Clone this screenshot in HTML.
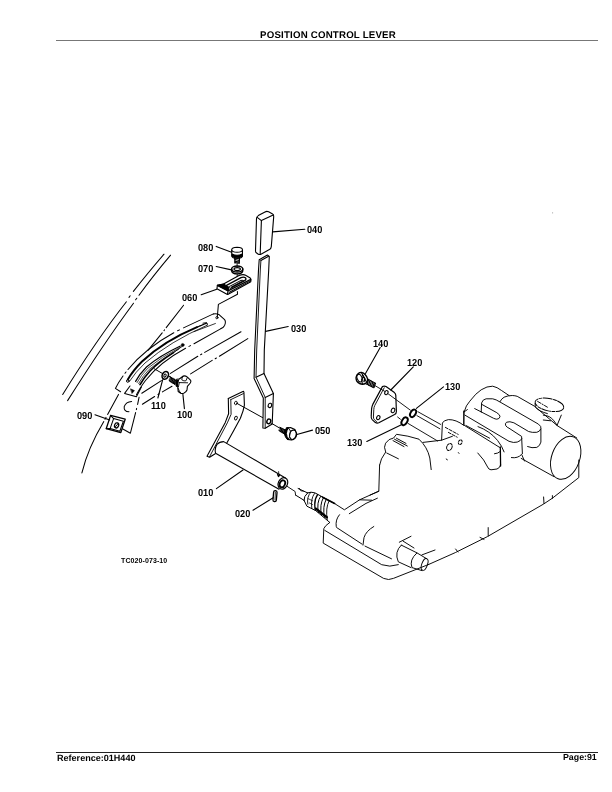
<!DOCTYPE html>
<html><head><meta charset="utf-8">
<style>
html,body{margin:0;padding:0;background:#fff;overflow:hidden;}
body{width:612px;height:792px;position:relative;overflow:hidden;font-family:"Liberation Sans",sans-serif;color:#000;}
.t{position:absolute;white-space:nowrap;font-weight:bold;line-height:1;will-change:transform;}
#title{left:43px;width:570px;text-align:center;top:30.7px;font-size:9.7px;letter-spacing:0.19px;text-rendering:geometricPrecision;}
#hl{position:absolute;left:56px;top:40px;width:542px;height:1px;background:#777;}
#fl{position:absolute;left:56px;top:752px;width:542px;height:1px;background:#222;}
#ref{left:57.2px;top:754.1px;font-size:9.05px;text-rendering:geometricPrecision;}
#pg{right:15px;top:753.4px;font-size:8.8px;text-rendering:geometricPrecision;}
.l{font-size:9.2px;text-rendering:geometricPrecision;transform:scaleY(1.1);transform-origin:0 0;}
svg{position:absolute;left:0;top:0;}
</style></head><body>
<div class="t" id="title">POSITION CONTROL LEVER</div>
<div id="hl"></div>
<div id="fl"></div>
<div class="t" id="ref">Reference:01H440</div>
<div class="t" id="pg">Page:91</div>
<div class="t l" style="left:307.4px;top:224.5px">040</div>
<div class="t l" style="left:197.6px;top:243.0px">080</div>
<div class="t l" style="left:197.6px;top:264.0px">070</div>
<div class="t l" style="left:182.4px;top:292.7px">060</div>
<div class="t l" style="left:291.2px;top:323.8px">030</div>
<div class="t l" style="left:76.7px;top:410.9px">090</div>
<div class="t l" style="left:150.9px;top:400.8px">110</div>
<div class="t l" style="left:177.4px;top:410.0px">100</div>
<div class="t l" style="left:315.1px;top:426.0px">050</div>
<div class="t l" style="left:197.5px;top:487.7px">010</div>
<div class="t l" style="left:235.0px;top:508.8px">020</div>
<div class="t l" style="left:373.0px;top:338.8px">140</div>
<div class="t l" style="left:406.9px;top:357.9px">120</div>
<div class="t l" style="left:444.6px;top:381.9px">130</div>
<div class="t l" style="left:347.0px;top:437.6px">130</div>
<div class="t" id="tc" style="left:120.9px;top:557.2px;font-size:7px;letter-spacing:0.1px;">TC020-073-10</div>
<svg width="612" height="792" viewBox="0 0 612 792" fill="none" stroke="#000" stroke-width="1.1" stroke-linecap="round" stroke-linejoin="round">
<!--DRAWING-->
<!-- GRIP 040 -->
<g id="grip">
<path d="M256.5,218.5 Q256.6,216.6 258.3,215.6 L265,211.9 Q266.8,210.9 268.6,211.8 L272.6,213.9 Q273.9,214.7 273.7,216.6 L271.3,246.6 Q271.1,248.6 269.4,249.6 L261.4,254 Q259.6,255 258,254 L256.3,252.8 Q255.4,252.2 255.5,250.5 Z"/>
<path d="M257.2,217.4 L261.4,220.6 L273.2,215"/>
<path d="M261.4,220.6 L260.2,253.6"/>
<path d="M272.6,231.9 L304.8,229.3"/>
</g>
<!-- LEVER 030 -->
<g id="lever">
<path d="M259.2,259.7 L267.4,255 L269.3,256.4 L268.7,270 L264.3,350 L264,373.4 L273.4,393.5 L272.2,424 L265.2,428.2 L262.9,428 L263.3,398 L254.1,378.4 L254.7,350 L258.5,270 Z"/>
<path d="M260.9,260.6 L268.6,256.3"/>
<path d="M260.9,260.6 L260.3,270 L256.7,350 L256,377.2 L265.2,397.4 L265.2,428.2" stroke-width="0.91"/>
<path d="M256,377.2 L263.9,373.4"/>
<path d="M265.2,397.4 L273.4,393.5"/>
<ellipse cx="269.9" cy="405.4" rx="1.7" ry="2.2" transform="rotate(20 269.9 405.4)"/>
<ellipse cx="268.8" cy="421.4" rx="1.9" ry="2.4" transform="rotate(20 268.8 421.4)" stroke-width="1.43"/>
<path d="M265.6,331.4 L288.2,326.5"/>
</g>
<!-- BOLT 050 -->
<g id="bolt050">
<path d="M236.6,403.2 L262.6,417.6" stroke-width="1"/>
<path d="M271.5,423.3 L279.5,428" stroke-width="1"/>
<path d="M279.7,427.3 L286.1,430.6 M278.7,430.3 L284.6,434" stroke-width="1"/>
<path d="M280.6,427.6 L279.8,431 M281.9,428.3 L281,431.8 M283.2,429 L282.2,432.6 M284.5,429.6 L283.4,433.4 M285.6,430.2 L284.6,433.8" stroke-width="1.2"/>
<path d="M286.4,428 Q284,431 284.6,434.6 Q285.4,438 287.4,439.4 L289,439.4 Q286.4,436.6 286.4,433.4 Q286.6,430 288.4,427.9 Z" fill="#000" stroke-width="1"/>
<path d="M286.4,428 L290.5,427.5 L294.9,429.6 L296.6,433.5 Q296.8,436 295.4,437.9 Q293.6,439.9 291.5,440 L287.4,439.4" stroke-width="1.2"/>
<ellipse cx="292.8" cy="434.8" rx="3.2" ry="4.7" transform="rotate(18 292.8 434.8)" stroke-width="1"/>
<path d="M288.4,427.9 L290.4,431 L289.6,436.4 L291.4,439.8 M290.4,431 L292.6,430.2" stroke-width="0.9"/>
<path d="M296.9,434.5 L312.5,430.1"/>
</g>
<!-- BOLT 080 / WASHER 070 -->
<g id="bolt080">
<path d="M231.7,250 Q231.6,247.4 237.1,247.3 Q242.6,247.4 242.5,250 L242.4,256 Q242,258.4 237.1,258.5 Q232.2,258.4 231.8,256 Z" fill="#fff"/>
<path d="M231.7,250 Q232,252.2 237.1,252.3 Q242.2,252.2 242.5,250" />
<path d="M232,254 Q237,256.6 242.3,254 L242.3,256.2 Q237,259.4 232,256.2 Z" fill="#000"/>
<path d="M234.8,258.2 L235,263 M239.4,258.2 L239.2,263" stroke-width="1.30"/>
<path d="M235,259.6 L239.3,260.4 M235,261.2 L239.3,262 M235,262.6 L239.2,263.2" stroke-width="1.04"/>
<path d="M237.1,263 L237.1,266.5" stroke-width="0.91"/>
<path d="M216.2,246.4 L231.6,252.2"/>
<ellipse cx="237.2" cy="269" rx="5.6" ry="3" stroke-width="1.43"/>
<path d="M231.6,269 L231.7,271 Q232.4,273.8 237.2,273.9 Q242,273.8 242.7,271 L242.8,269" stroke-width="1.43"/>
<ellipse cx="237.2" cy="269.1" rx="3.2" ry="1.5" stroke-width="1.17"/>
<path d="M216.2,266.5 L231.4,269.9"/>
<path d="M237.2,274 L237.2,277.5" stroke-width="0.91"/>
</g>
<!-- BRACKET 060 -->
<g id="br060">
<path d="M217.4,285.4 L223.5,284 L239,275.6 Q243,273.8 245.6,275.2 L250.2,278 Q251.2,278.8 250.8,281.8 L228.2,294.2 L227.4,294.4 L216.9,288.8 Z" fill="#fff"/>
<path d="M217.4,285.4 L228,290.8 L227.6,294.3 M228,290.8 L250.8,279.3" stroke-width="1.30"/>
<path d="M217.6,285.3 L223.5,284 L229.2,287.4 L228,290.6 Z" fill="#000"/>
<path d="M229.4,292.3 L250.8,280.6" stroke-width="1.04"/>
<path d="M226.5,285.4 L241,277.6 Q243.6,276.6 245.4,277.8 Q246.8,279.2 244.6,280.6 L230.6,288.2 " stroke-width="1.30"/>
<path d="M229.6,286.4 L240.6,280.6 Q242.6,279.8 243.4,280.6 M231.6,287 L241.6,281.8" stroke-width="1.04"/>
<path d="M201.2,294.8 L216.8,289.3"/>
<path d="M237.4,291.6 L237.5,294.2 L218.4,304.4 L217.3,317" stroke-width="1.04"/>
</g>
<!-- GATE (chain style) -->
<g id="gate">
<!-- outer/top edge -->
<path d="M213.4,313.9 Q216.5,313.2 219.3,314.8 L224.6,319.6 Q226.2,321.6 224.6,325.4 Q223.4,327.6 221,328.6" stroke-width="1.04"/>
<path d="M213.4,313.9 L183.5,327.9 M179.5,329.9 L177.6,330.8 M173.8,332.8 Q146,348 128,369.5 M126,372 L125,373.3 M123,376 Q118,383 115.4,388.4 L120.6,391.8" stroke-width="1.04"/>
<!-- lower/inner edge -->
<path d="M221,328.6 L194,343.8 M190.5,345.6 L189,346.4 M185.6,348.2 Q160,362 145.5,380.5 Q139.5,388.5 136.5,394.8" stroke-width="1.04"/>
<circle cx="216.9" cy="317.7" r="1.1" stroke-width="0.91"/>
<!-- upper slot thick -->
<path d="M197,327.2 Q164,341 142,361.5 Q133,370.5 127.8,379.5" stroke-width="1.9"/>
<path d="M197,327.2 L206.4,323.2" stroke-width="1.3" stroke-dasharray="1.6 0.9"/>
<path d="M207.2,325.2 Q170,341.5 145,363 Q135.5,372 129.6,381.2" stroke-width="0.8"/>
<path d="M203,323.2 L206.6,322.6 Q208.2,323.6 207.2,325.2" stroke-width="0.9"/>
<path d="M215.4,323.5 L194.1,331.6" stroke-width="0.8"/>
<circle cx="127.8" cy="381" r="1.3" stroke-width="1"/>
<!-- lower slot -->
<path d="M180.4,346 Q160,355.5 146.5,367 Q139.5,374 135.6,381.4" stroke-width="1.2"/>
<path d="M179.6,347.6 Q161,357 147.8,368.2 Q141,375 137,382.6" stroke-width="0.7"/>
<path d="M178.6,349.2 Q162,358.5 149.2,369.4 Q142.6,376 138.6,383.6" stroke-width="0.7"/>
<path d="M173.5,352.6 Q158,362.5 150,371 Q143.6,378 140,384.6" stroke-width="1.7"/>
<path d="M182.4,346.2 L173.5,352.6" stroke-width="0.9"/>
<circle cx="182.7" cy="344.9" r="1.5" fill="#000" stroke-width="0.5"/>
<!-- bottom trapezoid -->
<path d="M124.6,393.4 L136.4,396.8 L141.4,387 M124.6,393.4 L130,386" stroke-width="1.04"/>
<path d="M130.8,389 L134.4,390.6 L132.2,393.2 Z" fill="#000" stroke-width="0.65"/>
<!-- lower panel chain -->
<path d="M118.5,394.4 L107.6,414.4" stroke-width="1.04"/>
<path d="M139.1,397.2 L137.6,404.4 M136.6,408.4 L136.4,409.6 M135.6,412.6 L130.4,433.2 L122.4,428.8" stroke-width="1.04"/>
<path d="M131.6,401.6 Q126,402 124.2,406.6 Q123.6,411.4 129,411.8" stroke-width="1.04"/>
</g>
<!-- CLIP 090 -->
<g id="clip090">
<path d="M110.6,415.4 L125.2,419.2 L120.8,432.6 L106.2,428.7 Z" stroke-width="1.30"/>
<path d="M113.6,418.6 L123.4,421.2 L119.8,431.2 L110.2,428.4 Z" stroke-width="1.04"/>
<path d="M110.6,415.4 L113.6,418.6 M106.2,428.7 L110.2,428.4" stroke-width="1.04"/>
<ellipse cx="116.6" cy="425.4" rx="2" ry="2.6" transform="rotate(20 116.6 425.4)" stroke-width="1.30"/>
<path d="M115.2,427 L118,423.8" stroke-width="0.91"/>
<path d="M95,414.7 L109.7,419.9"/>
</g>
<!-- WASHER 110 / KNOB 100 -->
<g id="knob">
<path d="M154.3,368.8 L162.6,373.6" stroke-width="1"/>
<ellipse cx="165.3" cy="375.3" rx="3" ry="4" transform="rotate(25 165.3 375.3)" stroke-width="1.6" fill="#fff"/>
<ellipse cx="165" cy="375.6" rx="1.1" ry="1.6" transform="rotate(25 165 375.6)" stroke-width="1"/>
<path d="M169.3,376.4 L176.3,380.8 M169,380.4 L174.9,384.5" stroke-width="1"/>
<path d="M170.4,376.8 L169.6,381 M171.7,377.6 L170.8,381.8 M173,378.4 L172,382.6 M174.3,379.2 L173.2,383.4 M175.4,380 L174.4,384" stroke-width="1.2"/>
<path d="M176.4,379.4 Q174.6,383 176.2,386.4 L178.6,387.4 Q177.2,383.4 179.3,379.4 Z" fill="#000" stroke-width="0.8"/>
<path d="M179.3,379 L183.3,376 Q185.4,375.6 187.4,377.1 L190.7,380.4 Q191.2,381.8 190.3,383 L187.4,386.3 L187,390 Q186,392.4 183.7,393.3 Q182,393.8 180.7,393.3 L178.2,391.5 L177.8,387.8" fill="#fff" stroke-width="1.1"/>
<path d="M183.3,376.2 Q181.4,378 181.8,379.9 Q184,381.4 185.9,380.8 L187.4,377.4" stroke-width="0.9"/>
<path d="M179.3,382.6 L187.6,382.8 M179.3,382.6 L178.4,387 M178,388 Q179,391.6 181,393.2" stroke-width="0.9"/>
<path d="M162.7,379.7 L157.9,398"/>
<path d="M182.9,394.4 L184.4,408.6"/>
</g>
<!-- LONG CHAIN LINES -->
<g id="chains" stroke-width="1.04">
<!-- line1 left -->
<path d="M164,254.2 Q147,274 133.4,291.4 M130.2,295.8 L129,297.4 M126.4,301.8 Q96.5,340 62.7,394.5"/>
<!-- line2 right -->
<path d="M170.6,255.2 Q153,276 139,295.3 M136.8,298.2 L135.6,299.8 M133.5,303.2 Q104,343 67.6,400.6"/>
<!-- 060 leader to gate -->
<path d="M183.6,305.2 L166.2,327.6 M164.6,329.8 L164,330.6 M162.2,332.8 L148,350.3"/>
<!-- third curve -->
<path d="M103.8,421.6 Q88,448 81.9,472.9"/>
<path d="M106,417.4 L105,419.2"/>
<!-- chain A -->
<path d="M241,331.8 L204.7,352.4 M201.8,354 L200.6,354.7 M197.8,356.3 L170.5,373.4 M161.4,380.6 L141.8,393.2"/>
<!-- chain B -->
<path d="M247.8,338.6 L219.4,356.3 M216.4,358 L215.2,358.7 M212.2,360.4 L190.6,373.9 M172,386.2 L162.4,391.9 M159.2,393.8 L158,394.5 M154.6,396.5 L142.4,404.2"/>
</g>
<!-- SHAFT 010 -->
<g id="shaft">
<path d="M228.3,398.6 L243.4,391.3 L243.9,392 L244.4,405.2 Q243.6,410.6 240.4,418.3 L234.3,429.4 L226.8,443" stroke-width="1.1"/>
<path d="M228.3,398.6 L228.6,413.8 L225.3,422.4 L207,456.2 L209.6,457.2 L215.2,453.7" stroke-width="1.1"/>
<path d="M230.8,399.6 L243.4,393.6 M230.8,399.6 L231.1,414.3 L227.3,422.9 L209.6,456.7" stroke-width="0.9"/>
<ellipse cx="235.9" cy="403" rx="1.4" ry="1.8" transform="rotate(20 235.9 403)" stroke-width="0.9"/>
<ellipse cx="235.9" cy="418.1" rx="1.3" ry="1.9" transform="rotate(25 235.9 418.1)" stroke-width="0.9"/>
<!-- tube -->
<path d="M215.7,453.4 Q214.2,448.6 217,444.4 Q219.4,441.6 223.7,441.6 L285.4,478 M216,453.6 L279,489.2" stroke-width="1.1"/>
<ellipse cx="282.9" cy="483.4" rx="4.6" ry="6" transform="rotate(25 282.9 483.4)" stroke-width="1.17"/>
<ellipse cx="282.4" cy="483.8" rx="2.6" ry="3.6" transform="rotate(25 282.4 483.8)" stroke-width="1.82"/>
<path d="M277.4,474.4 L279.6,475.6 L278.4,476.6 Z" fill="#000" stroke-width="1.04"/>
<path d="M278.6,471.6 L278.8,474" stroke-width="0.78"/>
<!-- key 020 -->
<rect x="273.3" y="490.6" width="3.4" height="11" rx="1.6" ry="1.6" transform="rotate(5 275 496)" stroke-width="1.30"/>
<path d="M275.4,492 L275,500" stroke-width="0.78"/>
<path d="M253,510.2 L273.2,497.8"/>
<path d="M216.4,488.6 L243,470"/>
</g>
<!-- PLATE 120, BOLT 140, ORINGS 130 -->
<g id="plate120">
<path d="M382.4,386.6 Q384.2,385.6 386,386.6 L394.4,392.6 Q395.6,393.6 395.8,395.4 L396.4,411.4 Q396.4,413.6 394.6,414.6 L378.8,422.8 Q377,423.6 375.4,422.6 L372.2,419.6 Q371,418.4 371.2,416.4 L371.6,408.6 Q371.8,406.4 372.8,404.4 Z" stroke-width="1.17"/>
<path d="M384.2,387.8 L374.8,405.4 Q373.8,407.4 373.8,409.6 L373.4,417 Q373.4,418.8 374.6,419.8 L376.8,422" stroke-width="0.91"/>
<ellipse cx="386.4" cy="392.6" rx="1.6" ry="2.1" transform="rotate(25 386.4 392.6)" stroke-width="1.04"/>
<ellipse cx="393" cy="410.4" rx="1.7" ry="2.3" transform="rotate(25 393 410.4)" stroke-width="1.04"/>
<ellipse cx="378.3" cy="417.6" rx="1.6" ry="2.1" transform="rotate(25 378.3 417.6)" stroke-width="1.04"/>
<path d="M413.3,366.8 L390.8,390"/>
</g>
<g id="bolt140">
<path d="M356.1,377.3 Q356.6,374.8 358.2,373.6 Q359.6,372.4 361.4,372.4 Q363.6,372.8 365.1,374.4 Q367,376.4 367.6,378.9 Q367.8,381 366.7,382.6 Q365,384.4 362.3,384.2 Q360,384 358.2,382.6 Q356.6,381.4 356.4,380.1 Q356,378.6 356.1,377.3 Z" stroke-width="1.4"/>
<ellipse cx="359.6" cy="378.1" rx="2.4" ry="3.9" transform="rotate(-22 359.6 378.1)" stroke-width="1"/>
<path d="M361.4,372.6 L363.4,376.4 L366.8,382.4 M363.4,376.4 L361.6,379.6 L362.4,384" stroke-width="1.1"/>
<path d="M362.6,375.2 L364.8,378.6 L364,381.6" stroke-width="1.4"/>
<path d="M367.6,378.9 L375.7,383.4 M365.9,383.8 L373.3,387.5" stroke-width="1"/>
<path d="M368.6,379.6 L367.2,384.4 M370,380.4 L368.6,385.2 M371.4,381.2 L370,385.8 M372.8,382 L371.4,386.6 M374.2,382.8 L372.8,387.2 M375.4,383.4 L374,387.6" stroke-width="1.2"/>
<path d="M375.3,385.8 L384.8,391.4" stroke-width="0.9"/>
<path d="M380.2,347.6 L365.5,373.6"/>
</g>
<g id="orings">
<ellipse cx="413.1" cy="413.3" rx="2.5" ry="4.1" transform="rotate(30 413.1 413.3)" stroke-width="1.95"/>
<ellipse cx="404.6" cy="421.2" rx="2.6" ry="4.2" transform="rotate(30 404.6 421.2)" stroke-width="1.95"/>
<path d="M388.4,394 L410.4,410.2" stroke-width="0.91"/>
<path d="M397.6,417 L400.4,419.2" stroke-width="0.9"/>
<path d="M418,411.8 L440.6,424.4 M416.9,415.6 L439.9,428.8 M408,423.4 L437.6,441" stroke-width="0.91"/>
<path d="M443.5,386.9 L416.4,408.4"/>
<path d="M366.8,441.5 L401.4,424.8"/>
</g>
<!-- CONNECTOR -->
<g id="conn">
<path d="M287.1,486.3 L295.1,491.5 L295.6,495.1" stroke-width="0.9"/>
<path d="M298.1,488.5 L307.6,492.9 M295.6,495.1 L304,500.3" stroke-width="1"/>
<path d="M299.4,488.4 L300.8,490.8 L303.4,491.2" stroke-width="0.8"/>
<path d="M307.6,492.9 Q311,491.4 315,492.9 L334.5,503.5" stroke-width="1"/>
<path d="M304,500.3 Q303.6,496.4 307.6,492.9 M304,500.3 L306.9,506.2 L315.7,510.6 L329.7,522.4" stroke-width="1"/>
<path d="M310.6,492.4 Q306.6,497 307.8,504.2" stroke-width="0.9"/>
<path d="M314.4,493.6 Q310.4,499 311.8,508.4" stroke-width="0.9"/>
<path d="M317.6,494.6 Q313.4,500.4 315.4,510.4" stroke-width="1.3"/>
<path d="M320.6,496.4 Q316.4,502.4 318.4,512.6 M323.4,497.8 Q319.4,504.4 321.4,515 M326.2,499.4 Q322.4,506.4 324.4,517.4" stroke-width="1"/>
<path d="M329,501 Q325.4,508 327.2,519.6" stroke-width="0.9"/>
<path d="M322.6,497.2 L334.6,503.4" stroke-width="1.7"/>
<path d="M315.8,508.6 L326.8,517.2" stroke-width="2.4"/>
<path d="M308,498.6 L312.6,500.8 M309.4,503 L312.6,504.6" stroke-width="0.7"/>
</g>
<!-- HYDRAULIC UNIT -->
<g id="unit" stroke-width="0.95">
<!-- cylinder to body -->
<path d="M334.5,503.5 L344.4,509.8 L359.6,499.8 L378.8,491.2 L379.6,465"/>
<path d="M349.3,513.7 L366,503.4 L377.4,498.2"/>
<path d="M359.6,499.8 L371.6,500.2"/>
<path d="M339.5,514.7 Q335.2,519.6 336.2,526.5"/>
<!-- flange -->
<path d="M329.7,522.5 Q324.6,526 323.8,528.6 L323.2,543.1 L383.6,578.4 Q388.6,580.6 393.4,578.4 L428.8,564.4"/>
<path d="M324.8,530.4 L381.7,564.7 Q389.5,567.6 398.3,564.7"/>
<path d="M336.6,527.5 L362,544.1 M365,546.1 L391.5,558.8"/>
<path d="M373.8,526.5 Q366,531 364,537.6 L363,545.1"/>
<!-- port -->
<path d="M401.3,545.1 Q394,552 398.3,561.8 L411,567.6 M401.3,545.1 L417,552.9 Q409,560 412,567.6 L421.9,570.6 M417,552.9 L426.8,558.8"/>
<ellipse cx="424.6" cy="564.4" rx="2.8" ry="6.2" transform="rotate(20 424.6 564.4)"/>
<path d="M399.3,542.2 L411,536.3 M403.2,541.2 L414,548"/>
<path d="M421.9,554.9 L435,550"/>
<!-- bottom edge -->
<path d="M428.8,564.4 L455.3,552.6 L487.6,536.5 L543.5,504.1 L552.4,498.2 L578.8,477.6 L578.8,460"/>
<path d="M543.6,497 L544,503.6 M552.4,495.6 L552.4,498.4 M488.2,527.6 L488.2,536 M480,537.4 L484,539.4 M455.6,549 L458,552"/>
<!-- left lobe -->
<path d="M379.6,465 Q380.4,459 385.7,452 Q383.4,447 385.6,443.2 Q388.6,438.6 393.6,438 L396.5,434.3 Q408,435.6 419,439.2 Q427.4,447 429.8,458 L431.2,469.6"/>
<path d="M394.5,439.2 L407.3,446 M396.4,438.2 L406,443.4 M393,440.6 L404,446.6"/>
<path d="M386.7,453 L398.4,458.8"/>
<path d="M370,495.1 L378.8,491.2"/>
<path d="M423,442.4 L441.6,440.2 L452.4,436.3"/>
<!-- middle block -->
<path d="M441.6,440.2 L442.4,423 Q443.4,420.4 448.4,419.6 Q456,419.4 464,425.5 L463.7,411"/>
<path d="M445.4,427.4 L458.2,434.4 M448.4,432.4 L457.2,437.2" stroke-dasharray="3 1.6"/>
<ellipse cx="449.4" cy="447" rx="2.6" ry="3.6" transform="rotate(25 449.4 447)" stroke-dasharray="2.4 1"/>
<ellipse cx="460.2" cy="442.2" rx="1.8" ry="2.4" transform="rotate(25 460.2 442.2)" stroke-dasharray="2 1"/>
<path d="M446.2,459 L447.4,459.8 M458.4,452.6 L459,453.4"/>
<path d="M466,425.5 L489.6,438.2"/>
<path d="M477.8,453 Q484.6,460 487.6,467 Q488.6,469.6 491,469.8 L497,469 Q500,468 500.6,465"/>
</g>
<!-- UPPER BLOCK + RIGHT CYLINDER -->
<g id="unit2" stroke-width="0.95">
<path d="M464.1,411.9 Q466,405 469.8,401.2 Q476,393 481.2,389.8 Q487,386 492.7,386.2 Q497,387 501.7,390.6 L509,395.5"/>
<path d="M500,401.6 Q501.6,398.6 504.1,397.2 Q508,395.4 512.3,395.5 Q515,395.6 517.2,396.3 L534.3,406.1 L557.2,425.6 L576.8,438"/>
<path d="M481.2,411.9 L481.6,402.9 Q482.6,399.4 486.1,398.8 L492.7,398.8 Q496,399.4 500,402 L538.4,424.1 Q541.6,426.4 540.9,428.6 Q540,431.6 536.8,432.3 Q532,432.8 528.6,431.5 L513.9,422.8 Q509.6,421 506.6,422.2 Q504.6,423.6 505.8,425.8 Q507,427.4 509,428.2 L521.6,436.4 L522.4,453.6"/>
<path d="M482,404.5 L496.8,412.7 Q500.4,415 500,416.8 Q499.4,419 496.8,419.2 Q495,419 493.4,418.2 L481.2,411.9"/>
<path d="M464.1,411.9 L463.6,424.4"/>
<path d="M464.9,415.1 L509,441.3 Q513.6,443.2 517.2,442.1 Q520.6,441 521.8,438.8"/>
<path d="M464.1,411.9 L467.4,409.6 M474.7,408.6 L481.2,411.9"/>
<path d="M540.9,429 L540.9,442.1 Q540,446 536.8,447.4 Q532,448.4 527.6,446.6"/>
<path d="M478,426.6 Q490,431 497.6,440.5 Q502,446 504.1,451.9"/>
<path d="M464.4,425.4 L499.6,447.4"/>
<path d="M500.3,446.8 L500.6,466" stroke-width="1.30"/>
<path d="M494.5,453.8 Q498,453.6 500.4,451.4"/>
<path d="M511.4,457.6 Q518,458.6 521.6,454.3 L524.5,461"/>
<!-- right cylinder -->
<ellipse cx="565.7" cy="457.8" rx="14" ry="22.3" transform="rotate(20 565.7 457.8)"/>
<path d="M521.2,458.4 L553.9,476.6"/>
<!-- cap boss -->
<ellipse cx="549.4" cy="404.8" rx="14.6" ry="6.2" transform="rotate(12 549.4 404.8)" stroke-dasharray="9 1.2 3 1.2"/>
<path d="M537.6,401.4 L547.4,407.2" stroke-dasharray="4 1.5 1 1.5"/>
<path d="M535.1,403.6 L535.3,407 Q539,411.4 547.4,413.6"/>
<path d="M561.3,415.1 L557.2,425"/>
<path d="M543.3,415.1 Q550,415.4 553.9,420.8 L557.2,425.4 M543.3,420 L550.6,420.8"/>
</g>
<rect x="552" y="212" width="1.1" height="1.6" fill="#c8c8c8" stroke="none"/>
</svg>
</body></html>
